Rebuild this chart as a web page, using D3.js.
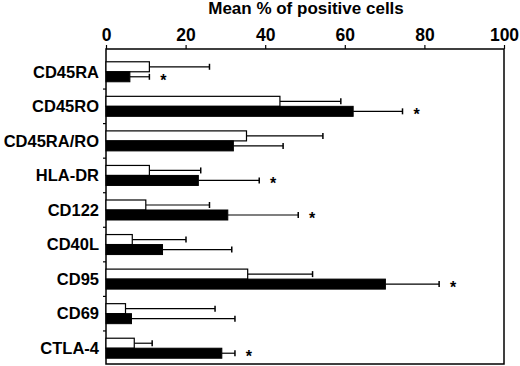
<!DOCTYPE html>
<html>
<head>
<meta charset="utf-8">
<script src="https://cdn.jsdelivr.net/npm/d3@7"></script>
<style>
  body { margin: 0; background: #fff; }
  svg text { font-family: Arial, "Liberation Sans", sans-serif; font-weight: bold; fill: #000; }
</style>
</head>
<body>
<div id="chart"></div>
<script>
// DATA
const markers = ["CD45RA", "CD45RO", "CD45RA/RO", "HLA-DR", "CD122", "CD40L", "CD95", "CD69", "CTLA-4"];
const whiteMean = [10.9, 43.7, 35.3, 10.9, 10.0, 6.6, 35.6, 4.9, 7.1];
const whiteErr  = [26.0, 59.0, 54.5, 23.8, 26.0, 20.1, 51.9, 27.4, 11.6];
const blackMean = [6.0, 62.1, 32.0, 23.2, 30.6, 14.2, 70.2, 6.4, 29.1];
const blackErr  = [10.9, 74.5, 44.5, 38.5, 48.3, 31.6, 83.7, 32.4, 32.4];
const significant = [true, true, false, true, true, false, true, false, true];
const xTicks = [0, 20, 40, 60, 80, 100];

// SIZES
const width = 520, height = 366;
const frame = {left: 106, right: 504, top: 49, bottom: 364};
const barH = 10;

const svg = d3.select("#chart").append("svg")
    .attr("width", width)
    .attr("height", height);

const x = d3.scaleLinear().domain([0, 100]).range([frame.left, frame.right]);
const y = d3.scaleBand().domain(markers).range([54.5, 365.5]);

// TITLE
svg.append("text")
    .attr("x", 306)
    .attr("y", 14)
    .attr("text-anchor", "middle")
    .style("font-size", "17px")
    .text("Mean % of positive cells");

// TOP AXIS
const xAxis = d3.axisTop(x).tickValues(xTicks).tickSize(4).tickSizeOuter(0).tickPadding(4);
const gx = svg.append("g")
    .attr("transform", "translate(0," + frame.top + ")")
    .call(xAxis);
gx.select(".domain").remove();
gx.selectAll("line").attr("stroke-width", 1.2);
gx.selectAll("text")
    .style("font-size", "17.5px")
    .style("font-family", "Arial, 'Liberation Sans', sans-serif")
    .style("font-weight", "bold")
    .attr("fill", "#000");

// FRAME
svg.append("rect")
    .attr("x", frame.left)
    .attr("y", frame.top)
    .attr("width", frame.right - frame.left)
    .attr("height", frame.bottom - frame.top)
    .attr("fill", "none")
    .attr("stroke", "#000")
    .attr("stroke-width", 1.5);

// LEFT TICKS AT CATEGORY BOUNDARIES
svg.selectAll(".ytick")
    .data(markers.slice(1))
    .enter()
    .append("line")
    .attr("class", "ytick")
    .attr("x1", frame.left - 3)
    .attr("x2", frame.left)
    .attr("y1", d => y(d))
    .attr("y2", d => y(d))
    .attr("stroke", "#000")
    .attr("stroke-width", 1.2);

// CATEGORY LABELS
svg.selectAll(".ylabel")
    .data(markers)
    .enter()
    .append("text")
    .attr("class", "ylabel")
    .attr("x", 99)
    .attr("y", d => y(d) + y.bandwidth() / 2 + 5.8)
    .attr("text-anchor", "end")
    .style("font-size", "16.5px")
    .text(d => d);

const rows = markers.map((m, i) => ({
    name: m,
    wm: whiteMean[i], we: whiteErr[i],
    bm: blackMean[i], be: blackErr[i],
    sig: significant[i]
}));

function centre(d) { return y(d.name) + y.bandwidth() / 2; }

// ERROR BARS (drawn first so the bars sit on top)
function errorBar(sel, mean, err, offset) {
    sel.append("line")
        .attr("x1", d => x(d[mean]))
        .attr("x2", d => x(d[err]))
        .attr("y1", d => centre(d) + offset)
        .attr("y2", d => centre(d) + offset)
        .attr("stroke", "#000")
        .attr("stroke-width", 1.2);
    sel.append("line")
        .attr("x1", d => x(d[err]))
        .attr("x2", d => x(d[err]))
        .attr("y1", d => centre(d) + offset - 3)
        .attr("y2", d => centre(d) + offset + 3)
        .attr("stroke", "#000")
        .attr("stroke-width", 1.5);
}

const groups = svg.selectAll(".row")
    .data(rows)
    .enter()
    .append("g")
    .attr("class", "row");

errorBar(groups, "wm", "we", -barH / 2);
errorBar(groups, "bm", "be", barH / 2);

// WHITE BARS
groups.append("rect")
    .attr("x", x(0))
    .attr("y", d => centre(d) - barH)
    .attr("width", d => x(d.wm) - x(0))
    .attr("height", barH)
    .attr("fill", "#fff")
    .attr("stroke", "#000")
    .attr("stroke-width", 1.2);

// BLACK BARS
groups.append("rect")
    .attr("x", x(0))
    .attr("y", d => centre(d))
    .attr("width", d => x(d.bm) - x(0))
    .attr("height", barH)
    .attr("fill", "#000")
    .attr("stroke", "#000")
    .attr("stroke-width", 1);

// ASTERISKS
groups.filter(d => d.sig)
    .append("text")
    .attr("x", d => x(d.be) + 14)
    .attr("y", d => centre(d) + 14)
    .attr("text-anchor", "middle")
    .style("font-size", "16px")
    .text("*");
</script>
</body>
</html>
